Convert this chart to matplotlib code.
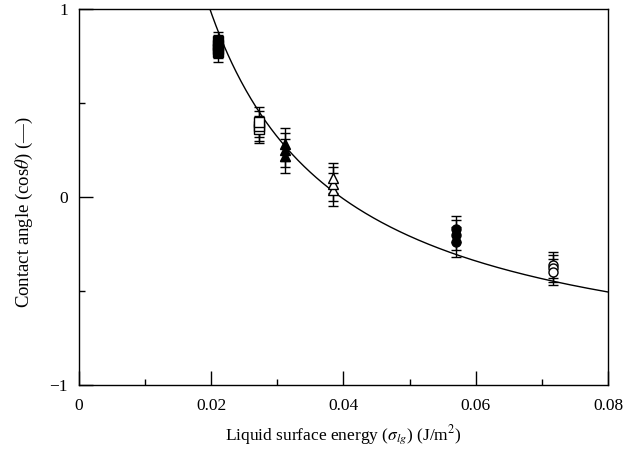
import numpy as np
import matplotlib
matplotlib.use("Agg")
import matplotlib.pyplot as plt
from matplotlib.ticker import FixedLocator

plt.rcParams['font.family'] = ['Liberation Serif', 'DejaVu Serif']
plt.rcParams['mathtext.fontset'] = 'stix'

# measured points: surface energy (J/m^2), cos(theta), error, marker style
x_pts = [0.0210, 0.0210, 0.0210, 0.0210,
         0.0272, 0.0272, 0.0272,
         0.0311, 0.0311, 0.0311,
         0.0384, 0.0384, 0.0384,
         0.0570, 0.0570, 0.0570,
         0.0717, 0.0717, 0.0717]
cos_pts = [0.77, 0.79, 0.81, 0.83,
           0.36, 0.38, 0.40,
           0.22, 0.25, 0.28,
           0.04, 0.07, 0.10,
           -0.17, -0.20, -0.24,
           -0.36, -0.38, -0.40]
err_pts = [0.05, 0.05, 0.05, 0.05,
           0.07, 0.08, 0.08,
           0.09, 0.09, 0.09,
           0.09, 0.09, 0.08,
           0.07, 0.08, 0.08,
           0.07, 0.07, 0.07]
markers = ['s', 's', 's', 's',
           's', 's', 's',
           '^', '^', '^',
           '^', '^', '^',
           'o', 'o', 'o',
           'o', 'o', 'o']
filled = [True, True, True, True,
          False, False, False,
          True, True, True,
          False, False, False,
          True, True, True,
          False, False, False]

x_ticks = [0, 0.02, 0.04, 0.06, 0.08]
x_ticklabels = ['0', '0.02', '0.04', '0.06', '0.08']
y_ticks = [-1, 0, 1]
y_ticklabels = ['\u22121', '0', '1']

# model curve: cos(theta) = -1 + 2*gamma_s/gamma_lg
gamma_s = 0.0198

fig = plt.figure(figsize=(6.38, 4.57), dpi=100)
ax = fig.add_axes([0.1238, 0.1575, 0.8292, 0.8225])

xc = np.linspace(0.0195, 0.08, 400)
ax.plot(xc, -1 + 2 * gamma_s / xc, color='black', lw=1.0)

for x, y, e, m, f in zip(x_pts, cos_pts, err_pts, markers, filled):
    ax.errorbar(x, y, yerr=e, fmt=m, ms=6.5, color='black',
                mfc='black' if f else 'white', mec='black', mew=1.0,
                ecolor='black', elinewidth=1.0, capsize=3.6, capthick=1.0)

ax.set_xlim(0, 0.08)
ax.set_ylim(-1, 1)
ax.set_xticks(x_ticks)
ax.set_xticklabels(x_ticklabels)
ax.xaxis.set_minor_locator(FixedLocator([0.01, 0.03, 0.05, 0.07]))
ax.set_yticks(y_ticks)
ax.set_yticklabels(y_ticklabels)
ax.yaxis.set_minor_locator(FixedLocator([-0.5, 0.5]))
ax.tick_params(which='major', direction='in', length=10, width=1.0, labelsize=12.5)
ax.tick_params(axis='x', which='major', pad=9)
ax.tick_params(axis='y', which='major', pad=8)
ax.tick_params(which='minor', direction='in', length=4, width=1.0)
for s in ax.spines.values():
    s.set_linewidth(1.0)

ax.set_xlabel(r'Liquid surface energy ($\sigma_{lg}$) (J/m$^2$)', fontsize=12.5, labelpad=7)
ax.set_ylabel(r'Contact angle (cos$\theta$) (—)', fontsize=13.5, labelpad=10)
ax.yaxis.set_label_coords(-0.083, 0.46)

fig.savefig('out.png', dpi=100)
